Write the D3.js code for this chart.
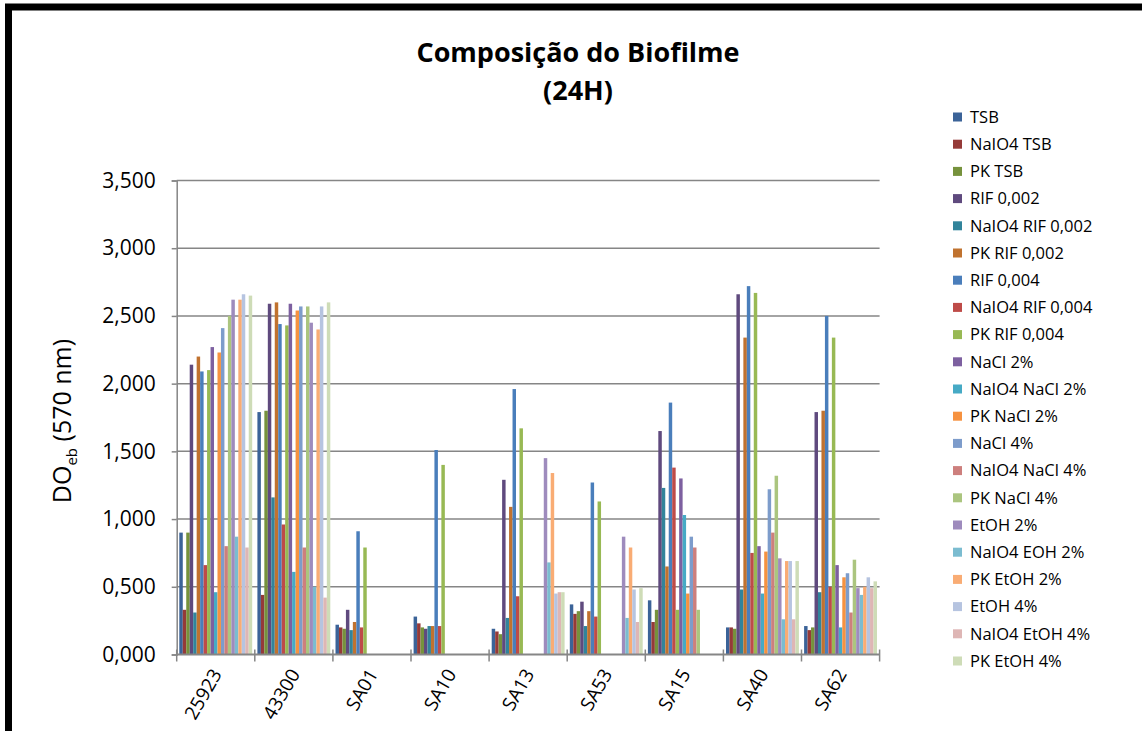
<!DOCTYPE html>
<html>
<head>
<meta charset="utf-8">
<script src="https://cdn.jsdelivr.net/npm/d3@7"></script>
<style>
  html, body { margin: 0; padding: 0; background: #fff; }
  svg { display: block; }
  text { font-family: "Open Sans", "Noto Sans", sans-serif; fill: #000; }
</style>
</head>
<body>
<svg id="chart" width="1142" height="731"></svg>
<script>
// Strains on the category axis
const categories = ["25923", "43300", "SA01", "SA10", "SA13", "SA53", "SA15", "SA40", "SA62"];

// Treatments (one bar series each)
const seriesNames = [
  "TSB", "NaIO4 TSB", "PK TSB",
  "RIF 0,002", "NaIO4 RIF 0,002", "PK RIF 0,002",
  "RIF 0,004", "NaIO4 RIF 0,004", "PK RIF 0,004",
  "NaCl 2%", "NaIO4 NaCl 2%", "PK NaCl 2%",
  "NaCl 4%", "NaIO4 NaCl 4%", "PK NaCl 4%",
  "EtOH 2%", "NaIO4 EOH 2%", "PK EtOH 2%",
  "EtOH 4%", "NaIO4 EtOH 4%", "PK EtOH 4%"
];

// OD values per treatment, in category order (null = not tested)
const tsb          = [0.90, 1.79, 0.22, 0.28, 0.19, 0.37, 0.40, 0.20, 0.21];
const naio4Tsb     = [0.33, 0.44, 0.20, 0.23, 0.17, 0.30, 0.24, 0.20, 0.18];
const pkTsb        = [0.90, 1.80, 0.19, 0.20, 0.15, 0.32, 0.33, 0.19, 0.20];
const rif002       = [2.14, 2.59, 0.33, 0.19, 1.29, 0.39, 1.65, 2.66, 1.79];
const naio4Rif002  = [0.31, 1.16, 0.18, 0.21, 0.27, 0.21, 1.23, 0.48, 0.46];
const pkRif002     = [2.20, 2.60, 0.24, 0.21, 1.09, 0.32, 0.65, 2.34, 1.80];
const rif004       = [2.09, 2.44, 0.91, 1.51, 1.96, 1.27, 1.86, 2.72, 2.50];
const naio4Rif004  = [0.66, 0.96, 0.20, 0.21, 0.43, 0.28, 1.38, 0.75, 0.50];
const pkRif004     = [2.10, 2.43, 0.79, 1.40, 1.67, 1.13, 0.33, 2.67, 2.34];
const nacl2        = [2.27, 2.59, null, null, null, null, 1.30, 0.80, 0.66];
const naio4Nacl2   = [0.46, 0.61, null, null, null, null, 1.03, 0.45, 0.20];
const pkNacl2      = [2.23, 2.54, null, null, null, null, 0.45, 0.76, 0.57];
const nacl4        = [2.41, 2.57, null, null, null, null, 0.87, 1.22, 0.60];
const naio4Nacl4   = [0.80, 0.79, null, null, null, null, 0.79, 0.90, 0.31];
const pkNacl4      = [2.50, 2.57, null, null, null, null, 0.33, 1.32, 0.70];
const etoh2        = [2.62, 2.45, null, null, 1.45, 0.87, null, 0.71, 0.49];
const naio4Etoh2   = [0.87, 0.50, null, null, 0.68, 0.27, null, 0.26, 0.44];
const pkEtoh2      = [2.62, 2.40, null, null, 1.34, 0.79, null, 0.69, 0.50];
const etoh4        = [2.66, 2.57, null, null, 0.45, 0.48, null, 0.69, 0.57];
const naio4Etoh4   = [0.79, 0.42, null, null, 0.46, 0.24, null, 0.26, 0.49];
const pkEtoh4      = [2.65, 2.60, null, null, 0.46, 0.49, null, 0.69, 0.54];

const seriesValues = [
  tsb, naio4Tsb, pkTsb, rif002, naio4Rif002, pkRif002, rif004, naio4Rif004, pkRif004,
  nacl2, naio4Nacl2, pkNacl2, nacl4, naio4Nacl4, pkNacl4,
  etoh2, naio4Etoh2, pkEtoh2, etoh4, naio4Etoh4, pkEtoh4
];

const yTicks = [0, 0.5, 1, 1.5, 2, 2.5, 3, 3.5];
const yTickLabels = ["0,000", "0,500", "1,000", "1,500", "2,000", "2,500", "3,000", "3,500"];

const colors = [
  "#3b6398", "#953a38", "#76923c", "#5f4a7e", "#31849b", "#c0722f",
  "#4a7ebb", "#be4b48", "#98b954", "#7d60a0", "#46aac5", "#f69240",
  "#7d9ccb", "#cd7f7d", "#abc57f", "#9e8bbd", "#7bbcd0", "#f9ac74",
  "#b6c4e0", "#deb6b5", "#cedcb7"
];

const svg = d3.select("#chart");

// Frame
svg.append("rect")
  .attr("x", 8.5).attr("y", 7)
  .attr("width", 1200).attr("height", 800)
  .attr("fill", "none").attr("stroke", "#000").attr("stroke-width", 7);

const plot = { left: 176.7, right: 879.6, top: 180.5, bottom: 654.5 };

const x = d3.scaleBand().domain(categories).range([plot.left, plot.right]).padding(0);
const gapRatio = 1.5;
const barW = x.bandwidth() / (seriesNames.length + gapRatio);
const xInner = d3.scaleBand()
  .domain(seriesNames)
  .range([barW * gapRatio / 2, barW * gapRatio / 2 + barW * seriesNames.length])
  .padding(0);
const y = d3.scaleLinear().domain([0, 3.5]).range([plot.bottom, plot.top]);

// Gridlines
svg.append("g").selectAll("line").data(yTicks.filter(d => d > 0)).join("line")
  .attr("x1", plot.left).attr("x2", plot.right)
  .attr("y1", d => y(d)).attr("y2", d => y(d))
  .attr("stroke", "#868686").attr("stroke-width", 1.5);

// Bars
const bars = svg.append("g");
seriesNames.forEach((name, si) => {
  bars.append("g").attr("fill", colors[si])
    .selectAll("rect")
    .data(categories.map((c, ci) => ({ c, v: seriesValues[si][ci] })).filter(d => d.v != null))
    .join("rect")
    .attr("x", d => x(d.c) + xInner(name))
    .attr("width", barW)
    .attr("y", d => y(d.v))
    .attr("height", d => y(0) - y(d.v));
});

// Y axis
const yAxis = d3.axisLeft(y).tickValues(yTicks)
  .tickFormat((d, i) => yTickLabels[i]).tickSize(5).tickPadding(16);
const gy = svg.append("g").attr("transform", `translate(${plot.left},0)`).call(yAxis);
gy.select(".domain").attr("stroke", "#868686").attr("stroke-width", 1.5);
gy.selectAll(".tick line").attr("stroke", "#868686").attr("stroke-width", 1.5);
gy.selectAll(".tick text").attr("font-size", 21).attr("font-family", "Open Sans").attr("fill", "#000");

// X axis baseline and category separators
svg.append("line")
  .attr("x1", plot.left).attr("x2", plot.right)
  .attr("y1", plot.bottom).attr("y2", plot.bottom)
  .attr("stroke", "#868686").attr("stroke-width", 2);
const bounds = categories.map(c => x(c)).concat([plot.right]);
svg.append("g").selectAll("line").data(bounds).join("line")
  .attr("x1", d => d).attr("x2", d => d)
  .attr("y1", plot.bottom - 5).attr("y2", plot.bottom + 7)
  .attr("stroke", "#868686").attr("stroke-width", 1.5);

// Category labels
svg.append("g").selectAll("text").data(categories).join("text")
  .attr("transform", d => `translate(${x(d) + x.bandwidth() / 2 + 1},${plot.bottom + 16}) rotate(-60)`)
  .attr("text-anchor", "end")
  .attr("dy", "0.35em")
  .attr("font-size", 19)
  .text(d => d);

// Y axis title
const yt = svg.append("text")
  .attr("transform", `translate(71,421) rotate(-90)`)
  .attr("text-anchor", "middle")
  .attr("font-size", 25);
yt.append("tspan").text("DO");
yt.append("tspan").attr("font-size", 15).attr("dy", 6).text("eb");
yt.append("tspan").attr("dy", -6).text(" (570 nm)");

// Chart title
svg.append("text").attr("x", 578).attr("y", 62).attr("text-anchor", "middle")
  .attr("font-size", 27).attr("font-weight", "bold").text("Composição do Biofilme");
svg.append("text").attr("x", 578).attr("y", 100).attr("text-anchor", "middle")
  .attr("font-size", 27).attr("font-weight", "bold").text("(24H)");

// Legend
const legend = svg.append("g").attr("transform", "translate(953,117)");
const rowH = 27.2;
const items = legend.selectAll("g").data(seriesNames).join("g")
  .attr("transform", (d, i) => `translate(0,${i * rowH})`);
items.append("rect").attr("x", 0).attr("y", -4.5).attr("width", 9).attr("height", 9)
  .attr("fill", (d, i) => colors[i]);
items.append("text").attr("x", 17).attr("dy", "0.35em").attr("font-size", 16.5).text(d => d);
</script>
</body>
</html>
